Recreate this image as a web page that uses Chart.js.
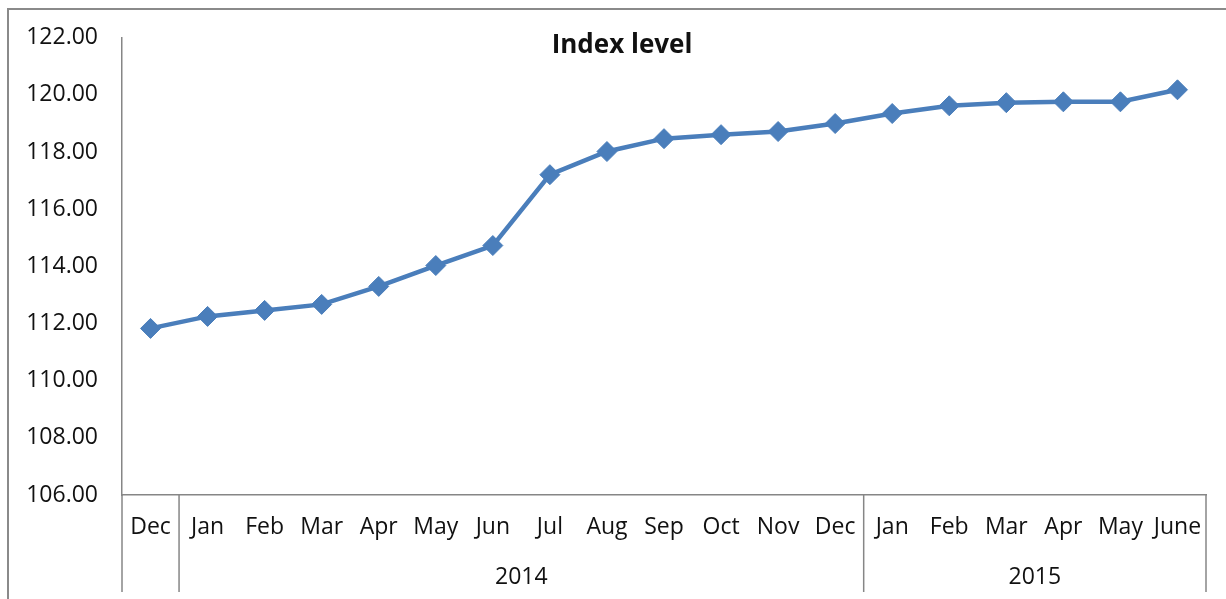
<!DOCTYPE html>
<html>
<head>
<meta charset="utf-8">
<script src="https://cdn.jsdelivr.net/npm/chart.js@4.4.1/dist/chart.umd.min.js"></script>
<style>
    html, body { margin: 0; padding: 0; background: #ffffff; }
    #chart_wrap { position: relative; width: 1226px; height: 599px; }
    #chart_frame {
        position: absolute; left: 7px; top: 8px; width: 1219px; height: 600px;
        border-left: 2px solid #8a8a8a; border-top: 2px solid #8a8a8a;
        box-sizing: border-box; pointer-events: none;
    }
</style>
</head>
<body>
<div id="chart_wrap">
    <canvas id="index_chart" width="1226" height="599"></canvas>
    <div id="chart_frame"></div>
</div>
<script>
const month_labels = ['Dec', 'Jan', 'Feb', 'Mar', 'Apr', 'May', 'Jun', 'Jul', 'Aug', 'Sep', 'Oct', 'Nov', 'Dec',
    'Jan', 'Feb', 'Mar', 'Apr', 'May', 'June'];
const index_values = [111.83, 112.25, 112.46, 112.67, 113.30, 114.03, 114.73, 117.21, 118.02, 118.47, 118.61,
    118.72, 119.00, 119.35, 119.62, 119.73, 119.76, 119.76, 120.18];
// year groups: label, first index, last index
const year_groups = [
    { label: '', from: 0, to: 0 },
    { label: '2014', from: 1, to: 12 },
    { label: '2015', from: 13, to: 18 },
];
const chart_title = 'Index level';

const index_palette = {
    line: '#4a7ebb',
    axis: '#868686',
    text: '#111111',
};
const label_font = '"Open Sans", "Liberation Sans", sans-serif';

// draws title, month/year rows and the group separators
const group_axis_plugin = {
    id: 'group_axis',
    afterDraw(chart) {
        const ctx = chart.ctx;
        const x_scale = chart.scales.x;
        const area = chart.chartArea;
        const step = x_scale.getPixelForValue(1) - x_scale.getPixelForValue(0);
        const line_bottom = 592;

        ctx.save();
        ctx.strokeStyle = index_palette.axis;
        ctx.lineWidth = 1.5;

        // left axis continues down through label rows
        ctx.beginPath();
        ctx.moveTo(area.left, area.bottom);
        ctx.lineTo(area.left, line_bottom);
        ctx.stroke();

        ctx.fillStyle = index_palette.text;
        ctx.textAlign = 'center';
        ctx.textBaseline = 'middle';
        ctx.font = '23px ' + label_font;
        month_labels.forEach(function (label, idx) {
            ctx.fillText(label, x_scale.getPixelForValue(idx), 527);
        });

        year_groups.forEach(function (group) {
            const right_edge = x_scale.getPixelForValue(group.to) + step / 2;
            const left_edge = x_scale.getPixelForValue(group.from) - step / 2;
            ctx.beginPath();
            ctx.moveTo(right_edge, area.bottom);
            ctx.lineTo(right_edge, line_bottom);
            ctx.stroke();
            if (group.label) {
                ctx.fillText(group.label, (left_edge + right_edge) / 2, 577);
            }
        });

        // title sits over the plot, centred on the whole frame
        ctx.font = 'bold 26px ' + label_font;
        ctx.fillText(chart_title, 622, 46);
        ctx.restore();
    },
};

function build_index_chart() {
    const canvas = document.getElementById('index_chart');
    if (!canvas || typeof Chart === 'undefined') {
        return;
    }

    new Chart(canvas.getContext('2d'), {
        type: 'line',
        data: {
            labels: month_labels,
            datasets: [
                {
                    label: chart_title,
                    data: index_values,
                    borderColor: index_palette.line,
                    backgroundColor: index_palette.line,
                    borderWidth: 4.5,
                    pointStyle: 'rectRot',
                    pointRadius: 10,
                    pointBorderWidth: 1,
                    pointBackgroundColor: index_palette.line,
                    pointBorderColor: index_palette.line,
                    tension: 0,
                    fill: false,
                },
            ],
        },
        options: {
            responsive: false,
            animation: false,
            layout: { padding: { left: 0, right: 20, top: 37, bottom: 0 } },
            plugins: {
                legend: { display: false },
                title: { display: false },
                tooltip: { enabled: false },
            },
            scales: {
                x: {
                    type: 'category',
                    offset: true,
                    grid: { display: false, drawTicks: false },
                    border: { display: true, color: index_palette.axis, width: 1.5 },
                    ticks: { display: false },
                    afterFit(scale) { scale.height = 104; },
                },
                y: {
                    min: 106,
                    max: 122,
                    grid: { display: false, drawTicks: false },
                    border: { display: true, color: index_palette.axis, width: 1.5 },
                    ticks: {
                        stepSize: 2,
                        padding: 24,
                        color: index_palette.text,
                        font: { family: label_font, size: 23 },
                        callback: function (value) { return Number(value).toFixed(2); },
                    },
                    afterFit(scale) { scale.width = 122; },
                },
            },
        },
        plugins: [group_axis_plugin],
    });
}

build_index_chart();
</script>
</body>
</html>
